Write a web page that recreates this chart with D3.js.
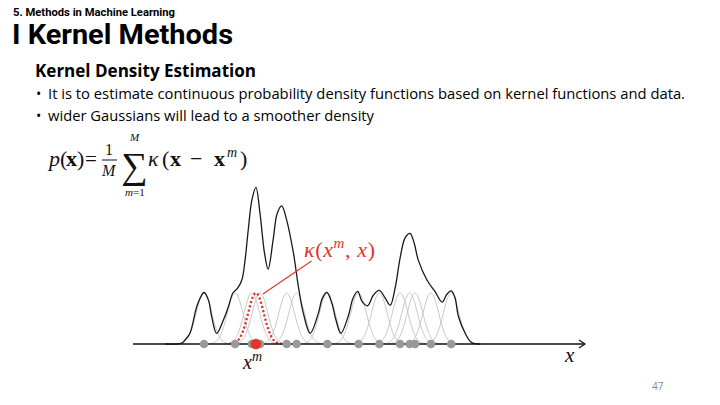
<!DOCTYPE html>
<html>
<head>
<meta charset="utf-8">
<script src="https://cdn.jsdelivr.net/npm/d3@7"></script>
<style>
  html, body { margin: 0; padding: 0; background: #fff; }
  svg { display: block; }
</style>
</head>
<body>
<div id="chart"></div>
<script>
// sample positions x^m (axis units 0..10)
var samples = [1.57, 2.26, 2.63, 2.81, 3.40, 3.62, 4.30, 4.99, 5.45, 5.91, 6.12, 6.24, 6.59, 7.04];
var highlighted = 2.72;   // the red x^m
var bandwidth = 0.173;    // kernel sigma

// black density curve (x, height in kernel units)
var densityX = [0.71, 1.08, 1.17, 1.26, 1.41, 1.52, 1.57, 1.67, 1.74, 1.85, 2.00, 2.11, 2.21, 2.31,
  2.41, 2.48, 2.55, 2.63, 2.72, 2.81, 2.91, 2.99, 3.10, 3.19, 3.29, 3.40, 3.55, 3.66, 3.77, 3.92,
  4.10, 4.19, 4.29, 4.40, 4.49, 4.60, 4.76, 4.87, 4.97, 5.07, 5.19, 5.32, 5.45, 5.58, 5.69, 5.80,
  5.91, 6.02, 6.13, 6.22, 6.31, 6.50, 6.68, 6.84, 6.94, 7.04, 7.12, 7.20, 7.35, 7.49, 7.68];
var densityY = [0, 0.02, 0.10, 0.21, 0.73, 0.96, 1.01, 0.86, 0.54, 0.21, 0.47, 0.73, 1.00, 1.09,
  1.26, 1.65, 2.24, 2.82, 3.07, 2.56, 1.78, 1.47, 2.04, 2.56, 2.71, 2.43, 1.78, 1.12, 0.60, 0.21,
  0.60, 0.90, 1.01, 0.80, 0.47, 0.21, 0.54, 0.90, 1.03, 0.83, 0.75, 0.96, 1.05, 0.90, 0.76, 1.10,
  1.69, 2.08, 2.17, 1.98, 1.65, 1.26, 1.03, 0.82, 0.97, 1.04, 0.92, 0.54, 0.21, 0.03, 0];

var W = 720, H = 405;
var svg = d3.select("#chart").append("svg").attr("width", W).attr("height", H);

var sans = "'Open Sans', 'Noto Sans', sans-serif";
var head = "Roboto, 'Liberation Sans', sans-serif";
var serif = "'Liberation Serif', 'DejaVu Serif', serif";

// slide header
svg.append("text").attr("x", 13).attr("y", 16)
  .style("font-family", head).style("font-weight", "bold").style("font-size", "10.5px")
  .attr("textLength", 162).attr("lengthAdjust", "spacingAndGlyphs")
  .text("5. Methods in Machine Learning");
svg.append("text").attr("x", 12).attr("y", 44)
  .style("font-family", head).style("font-weight", "bold").style("font-size", "27px")
  .attr("textLength", 221).attr("lengthAdjust", "spacingAndGlyphs")
  .text("I Kernel Methods");
svg.append("text").attr("x", 35).attr("y", 77)
  .style("font-family", sans).style("font-weight", "bold").style("font-size", "18px")
  .attr("textLength", 221).attr("lengthAdjust", "spacingAndGlyphs")
  .text("Kernel Density Estimation");

var bullets = [
  { text: "It is to estimate continuous probability density functions based on kernel functions and data.", len: 637, y: 99 },
  { text: "wider Gaussians will lead to a smoother density", len: 326, y: 121 }
];
bullets.forEach(function (b) {
  svg.append("text").attr("x", 36).attr("y", b.y)
    .style("font-family", sans).style("font-size", "14px").text("\u2022");
  svg.append("text").attr("x", 48).attr("y", b.y)
    .style("font-family", sans).style("font-size", "14px")
    .attr("textLength", b.len).attr("lengthAdjust", "spacingAndGlyphs")
    .text(b.text);
});

// formula p(x) = 1/M sum kappa(x - x^m), pieces placed one by one
var f = svg.append("g").style("font-family", serif).style("fill", "#111");
var pieces = [
  { t: "p", x: 49, y: 166, s: 22, it: true },
  { t: "(", x: 60, y: 166, s: 22 },
  { t: "x", x: 66, y: 166, s: 22, b: true },
  { t: ")", x: 77, y: 166, s: 22 },
  { t: "=", x: 85, y: 166, s: 21 },
  { t: "1", x: 105, y: 155, s: 16 },
  { t: "M", x: 102, y: 176, s: 16, it: true },
  { t: "\u2211", x: 121, y: 178, s: 37 },
  { t: "M", x: 130, y: 141, s: 11, it: true },
  { t: "m", x: 125, y: 196, s: 11, it: true },
  { t: "=1", x: 133, y: 196, s: 11 },
  { t: "\u03ba", x: 148, y: 166, s: 22, it: true },
  { t: "(", x: 162, y: 166, s: 22 },
  { t: "x", x: 170, y: 166, s: 22, b: true },
  { t: "\u2212", x: 190, y: 166, s: 22 },
  { t: "x", x: 214, y: 166, s: 22, b: true },
  { t: "m", x: 227, y: 157, s: 14, it: true },
  { t: ")", x: 240, y: 166, s: 22 }
];
pieces.forEach(function (p) {
  f.append("text").attr("x", p.x).attr("y", p.y).style("font-size", p.s + "px")
    .style("font-style", p.it ? "italic" : "normal")
    .style("font-weight", p.b ? "bold" : "normal").text(p.t);
});
f.append("line").attr("x1", 102).attr("x2", 117).attr("y1", 160).attr("y2", 160)
  .style("stroke", "#111").style("stroke-width", 1);

// scales
var x = d3.scaleLinear().domain([0, 10]).range([133, 585]);
var y = d3.scaleLinear().domain([0, 3]).range([344, 191]);

function kernelPoints(c) {
  return d3.range(c - 3.3 * bandwidth, c + 3.3 * bandwidth + 0.001, 0.01).map(function (v) {
    return [v, Math.exp(-(v - c) * (v - c) / (2 * bandwidth * bandwidth))];
  });
}
var line = d3.line().x(function (d) { return x(d[0]); }).y(function (d) { return y(d[1]); });

// gray kernels
svg.append("g").selectAll("path").data(samples).enter().append("path")
  .attr("d", function (d) { return line(kernelPoints(d)); })
  .style("fill", "none").style("stroke", "#c6c6c6").style("stroke-width", 1);

// black density curve
var dens = densityX.map(function (v, i) { return [v, densityY[i]]; });
svg.append("path").attr("d", line.curve(d3.curveCatmullRom.alpha(0.5))(dens))
  .style("fill", "none").style("stroke", "#1a1a1a").style("stroke-width", 1.3);
line.curve(d3.curveLinear);

// red dotted kernel
svg.append("path").attr("d", line(kernelPoints(highlighted)))
  .style("fill", "none").style("stroke", "#e5322a").style("stroke-width", 2.3)
  .style("stroke-dasharray", "2.2,2.2");

// axis with arrow
svg.append("line").attr("x1", x(0)).attr("x2", x(10)).attr("y1", y(0)).attr("y2", y(0))
  .style("stroke", "#111").style("stroke-width", 1.4);
svg.append("path")
  .attr("d", "M" + (x(10) - 6) + "," + (y(0) - 4) + "L" + x(10) + "," + y(0) + "L" + (x(10) - 6) + "," + (y(0) + 4))
  .style("fill", "none").style("stroke", "#111").style("stroke-width", 1.2);

// sample dots
svg.append("g").selectAll("circle").data(samples).enter().append("circle")
  .attr("cx", function (d) { return x(d); }).attr("cy", y(0)).attr("r", 4.3)
  .style("fill", "#999");
svg.append("circle").attr("cx", x(highlighted)).attr("cy", y(0)).attr("r", 5.3).style("fill", "#e5322a");

// leader line and kappa label
svg.append("line").attr("x1", x(highlighted) + 7).attr("y1", y(1) + 1).attr("x2", 311.5).attr("y2", 261)
  .style("stroke", "#e5322a").style("stroke-width", 1.1);
var k = svg.append("text").attr("x", 304).attr("y", 257).style("font-family", serif)
  .style("font-size", "22px").style("fill", "#e5322a")
  .attr("textLength", 71).attr("lengthAdjust", "spacing");
k.append("tspan").style("font-style", "italic").text("\u03ba");
k.append("tspan").text("(");
k.append("tspan").style("font-style", "italic").text("x");
k.append("tspan").attr("dy", -9).style("font-size", "15px").style("font-style", "italic").text("m");
k.append("tspan").attr("dy", 9).text(", ");
k.append("tspan").style("font-style", "italic").text("x");
k.append("tspan").text(")");

// axis labels
svg.append("text").attr("x", 565).attr("y", 362).style("font-family", serif)
  .style("font-size", "21px").style("font-style", "italic").style("fill", "#111").text("x");
var xm = svg.append("text").attr("x", 243).attr("y", 369).style("font-family", serif)
  .style("font-size", "20px").style("font-style", "italic").style("fill", "#111");
xm.append("tspan").text("x");
xm.append("tspan").attr("dy", -8).style("font-size", "14px").text("m");

// page number
svg.append("text").attr("x", 652).attr("y", 390).style("font-family", sans)
  .style("font-size", "10px").style("fill", "#888").text("47");
</script>
</body>
</html>
